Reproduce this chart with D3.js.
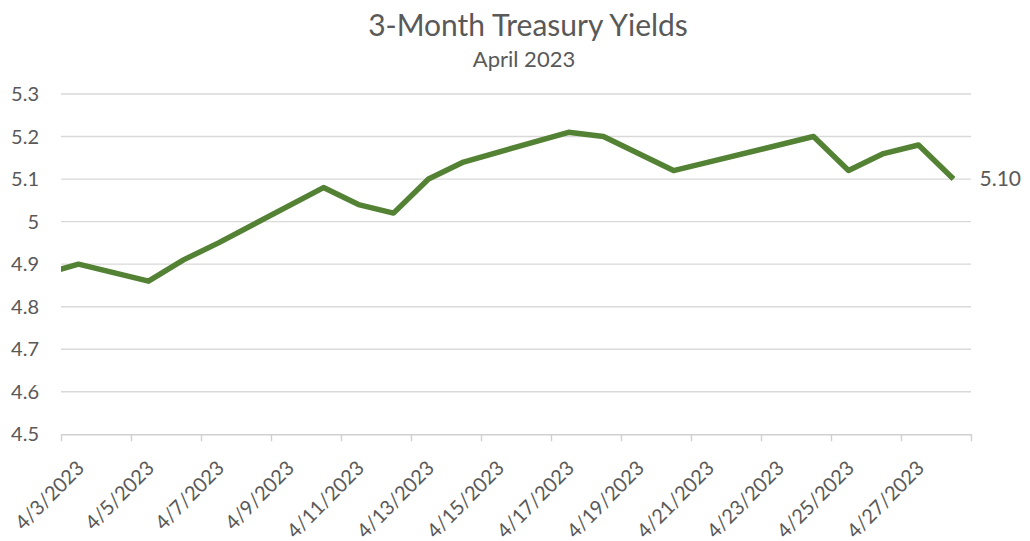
<!DOCTYPE html>
<html>
<head>
<meta charset="utf-8">
<script src="https://cdn.jsdelivr.net/npm/d3@7"></script>
<style>
  body { margin: 0; background: #fff; }
  text { font-family: Lato, "Open Sans", sans-serif; fill: #595959; }
</style>
</head>
<body>
<div id="chart"></div>
<script>
// daily 3-month yields (the 3/31 point sits left of the axis and is clipped)
const dates  = ["2023-03-31","2023-04-03","2023-04-04","2023-04-05","2023-04-06","2023-04-07",
                "2023-04-10","2023-04-11","2023-04-12","2023-04-13","2023-04-14",
                "2023-04-17","2023-04-18","2023-04-19","2023-04-20","2023-04-21",
                "2023-04-24","2023-04-25","2023-04-26","2023-04-27","2023-04-28"];
const yields = [4.83, 4.90, 4.88, 4.86, 4.91, 4.95,
                5.08, 5.04, 5.02, 5.10, 5.14,
                5.21, 5.20, 5.16, 5.12, 5.14,
                5.20, 5.12, 5.16, 5.18, 5.10];
const yTicks = [4.5, 4.6, 4.7, 4.8, 4.9, 5, 5.1, 5.2, 5.3];
const title = "3-Month Treasury Yields";
const subtitle = "April 2023";

const dims = { width: 1030, height: 541, left: 61, right: 971, top: 94, bottom: 434.3 };
const parse = d3.utcParse("%Y-%m-%d");
const fmt = d3.utcFormat("%-m/%-d/%Y");
const dayMs = 864e5;

const data = dates.map((d, i) => ({ date: parse(d), value: yields[i] }));

const svg = d3.select("#chart").append("svg")
  .attr("width", dims.width).attr("height", dims.height);

const x = d3.scaleUtc([parse("2023-04-03"), parse("2023-04-29")], [dims.left, dims.right]);
const y = d3.scaleLinear([4.5, 5.3], [dims.bottom, dims.top]);

// title
svg.append("text").attr("x", 528).attr("y", 36).attr("text-anchor", "middle")
  .style("font-size", "30px").text(title);
svg.append("text").attr("x", 524).attr("y", 67).attr("text-anchor", "middle")
  .style("font-size", "22px").text(subtitle);

// gridlines + y labels
svg.append("g").selectAll("line")
  .data(yTicks.slice(1))
  .join("line")
    .attr("x1", dims.left).attr("x2", dims.right)
    .attr("y1", d => y(d)).attr("y2", d => y(d))
    .attr("stroke", "#d9d9d9").attr("stroke-width", 1.4);

svg.append("g").selectAll("text")
  .data(yTicks)
  .join("text")
    .attr("x", 39).attr("y", d => y(d)).attr("dy", "0.35em")
    .attr("text-anchor", "end").style("font-size", "20px")
    .text(d => String(d));

// x axis
const xTicks = d3.utcDay.every(2).range(parse("2023-04-03"), parse("2023-04-30"));
const axisG = svg.append("g").attr("transform", `translate(0 ${dims.bottom})`)
  .call(d3.axisBottom(x).tickValues(xTicks).tickSize(7).tickSizeOuter(0).tickFormat(""));
axisG.select(".domain").attr("stroke", "#d0d0d0").attr("stroke-width", 1.4);
axisG.selectAll(".tick line").attr("stroke", "#d0d0d0").attr("stroke-width", 1.4);

svg.append("g").selectAll("text")
  .data(xTicks.slice(0, -1))
  .join("text")
    .attr("transform", d => `translate(${x(+d + dayMs / 2) + 7} ${dims.bottom + 35}) rotate(-45)`)
    .attr("text-anchor", "end").style("font-size", "20px")
    .text(d => fmt(d));

// line
svg.append("clipPath").attr("id", "plot")
  .append("rect").attr("x", dims.left).attr("y", 0)
  .attr("width", dims.right - dims.left).attr("height", dims.height);

const line = d3.line()
  .x(d => x(+d.date + dayMs / 2))
  .y(d => y(d.value));

svg.append("path")
  .datum(data)
  .attr("clip-path", "url(#plot)")
  .attr("d", line)
  .attr("fill", "none")
  .attr("stroke", "#548235")
  .attr("stroke-width", 5.5)
  .attr("stroke-linejoin", "round");

// end label
const last = data[data.length - 1];
svg.append("text")
  .attr("x", x(+last.date + dayMs / 2) + 26).attr("y", y(last.value)).attr("dy", "0.35em")
  .style("font-size", "21px")
  .text(last.value.toFixed(2));
</script>
</body>
</html>
